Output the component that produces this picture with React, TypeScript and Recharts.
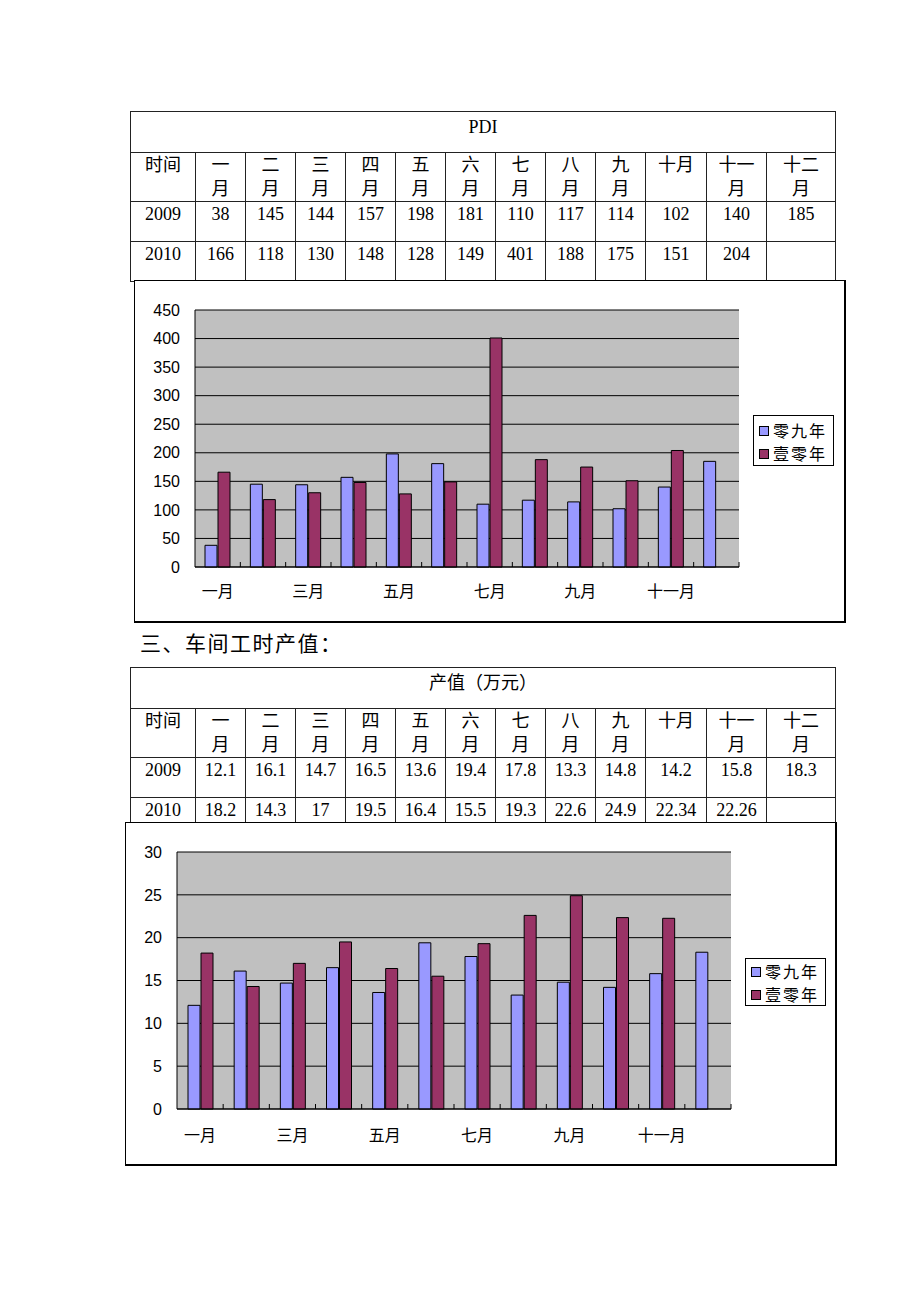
import React from 'react';
import { BarChart, Bar, XAxis, YAxis, CartesianGrid, Legend } from 'recharts';

const months = ['一月', '二月', '三月', '四月', '五月', '六月', '七月', '八月', '九月', '十月', '十一月', '十二月'];
const seriesNames = ['零九年', '壹零年'];
const yearLabels = ['2009', '2010'];

const pdi2009 = [38, 145, 144, 157, 198, 181, 110, 117, 114, 102, 140, 185];
const pdi2010: (number | null)[] = [166, 118, 130, 148, 128, 149, 401, 188, 175, 151, 204, null];
const pdiTicks = [0, 50, 100, 150, 200, 250, 300, 350, 400, 450];

const out2009 = [12.1, 16.1, 14.7, 16.5, 13.6, 19.4, 17.8, 13.3, 14.8, 14.2, 15.8, 18.3];
const out2010: (number | null)[] = [18.2, 14.3, 17, 19.5, 16.4, 15.5, 19.3, 22.6, 24.9, 22.34, 22.26, null];
const outTicks = [0, 5, 10, 15, 20, 25, 30];

const COLOR_09 = '#9999FF';
const COLOR_10 = '#993366';
const PLOT_BG = '#C0C0C0';

const SERIF = '"Liberation Serif", "Noto Sans CJK SC", serif';
const CJK = '"Noto Sans CJK SC", sans-serif';
const SANS = '"Liberation Sans", Arial, sans-serif';

const colWidths = [65, 50, 50, 50, 50, 50, 50, 50, 50, 50, 61, 60, 69];

function headerLabel(m: string) {
  if (m === '十月') return m;
  return (
    <>
      {m.slice(0, -1)}
      <br />
      {m.slice(-1)}
    </>
  );
}

const cellStyle: React.CSSProperties = {
  border: '1px solid #222',
  padding: '0',
  verticalAlign: 'top',
  textAlign: 'center',
  lineHeight: '24px',
  overflow: 'hidden',
};

function DataTable({ title, top, v2009, v2010 }: { title: string; top: number; v2009: number[]; v2010: (number | null)[] }) {
  return (
    <table
      style={{
        position: 'absolute',
        left: 130,
        top,
        width: 706,
        borderCollapse: 'collapse',
        tableLayout: 'fixed',
        fontFamily: SERIF,
        fontSize: 18,
        color: '#000',
      }}
    >
      <colgroup>
        {colWidths.map((w, i) => (
          <col key={i} style={{ width: w }} />
        ))}
      </colgroup>
      <tbody>
        <tr style={{ height: 41 }}>
          <td colSpan={13} style={{ ...cellStyle, paddingTop: 3 }}>{title}</td>
        </tr>
        <tr style={{ height: 49 }}>
          <td style={{ ...cellStyle, paddingTop: 0 }}>时间</td>
          {months.map((m) => (
            <td key={m} style={{ ...cellStyle, paddingTop: 0 }}>{headerLabel(m)}</td>
          ))}
        </tr>
        <tr style={{ height: 40 }}>
          <td style={cellStyle}>{yearLabels[0]}</td>
          {v2009.map((v, i) => (
            <td key={i} style={cellStyle}>{v}</td>
          ))}
        </tr>
        <tr style={{ height: 40 }}>
          <td style={cellStyle}>{yearLabels[1]}</td>
          {v2010.map((v, i) => (
            <td key={i} style={cellStyle}>{v === null ? '' : v}</td>
          ))}
        </tr>
      </tbody>
    </table>
  );
}

function makeXTick(band: number, labelDy: number) {
  return (props: any) => {
    const { x, y, payload, index } = props;
    const half = band / 2;
    return (
      <g>
        <line x1={x + half} x2={x + half} y1={y} y2={y - 5} stroke="#000" strokeWidth={1} />
        {index % 2 === 0 ? (
          <text
            x={x}
            y={y + labelDy}
            textAnchor="middle"
            dominantBaseline="central"
            fontSize={16}
            fontFamily={CJK}
            fill="#000"
          >
            {payload.value}
          </text>
        ) : null}
      </g>
    );
  };
}

function LegendBox({ width, height, padTop }: { width: number; height: number; padTop: number }) {
  const colors = [COLOR_09, COLOR_10];
  return (
    <div
      style={{
        width,
        height,
        boxSizing: 'border-box',
        border: '1px solid #000',
        background: '#fff',
        paddingTop: padTop,
      }}
    >
      {seriesNames.map((n, i) => (
        <div key={n} style={{ display: 'flex', alignItems: 'center', height: 23, paddingLeft: 5 }}>
          <span
            style={{
              display: 'inline-block',
              width: 8,
              height: 8,
              border: '1px solid #000',
              background: colors[i],
              marginRight: 4,
            }}
          />
          <span style={{ fontFamily: CJK, fontSize: 16, letterSpacing: 2, lineHeight: '23px', color: '#000' }}>{n}</span>
        </div>
      ))}
    </div>
  );
}

type ChartProps = {
  left: number;
  top: number;
  width: number;
  height: number;
  plotLeft: number;
  plotTop: number;
  plotWidth: number;
  plotHeight: number;
  v2009: number[];
  v2010: (number | null)[];
  ticks: number[];
  legendLeft: number;
  legendTop: number;
  legendW: number;
  legendH: number;
  legendPad: number;
  labelDy: number;
};

function ChartBox(p: ChartProps) {
  const data = months.map((m, i) => ({ month: m, a: p.v2009[i], b: p.v2010[i] }));
  const bottom = p.height - p.plotTop - p.plotHeight;
  const right = p.width - p.plotLeft - p.plotWidth;
  const band = p.plotWidth / months.length;
  const maxTick = p.ticks[p.ticks.length - 1];
  return (
    <div style={{ position: 'absolute', left: p.left, top: p.top, width: p.width, height: p.height, background: '#fff' }}>
      <BarChart
        width={p.width}
        height={p.height}
        data={data}
        margin={{ top: p.plotTop, right, bottom: 0, left: 0 }}
        barGap={1}
        barSize={12}
      >
        <CartesianGrid vertical={false} stroke="#000" strokeWidth={1} fill={PLOT_BG} fillOpacity={1} />
        <XAxis
          dataKey="month"
          height={bottom}
          interval={0}
          tickLine={false}
          tickSize={0}
          tickMargin={0}
          axisLine={{ stroke: '#000', strokeWidth: 1 }}
          tick={makeXTick(band, p.labelDy)}
        />
        <YAxis
          width={p.plotLeft}
          domain={[0, maxTick]}
          ticks={p.ticks}
          interval={0}
          tickLine={false}
          tickSize={0}
          tickMargin={15}
          axisLine={{ stroke: '#000', strokeWidth: 1 }}
          tick={{ fontSize: 16, fontFamily: SANS, fill: '#000' }}
        />
        <Legend
          layout="horizontal"
          align="center"
          verticalAlign="middle"
          wrapperStyle={{ position: 'absolute', left: p.legendLeft, top: p.legendTop, width: p.legendW, height: p.legendH }}
          content={() => <LegendBox width={p.legendW} height={p.legendH} padTop={p.legendPad} />}
        />
        <Bar dataKey="a" name={seriesNames[0]} fill={COLOR_09} stroke="#000" strokeWidth={1} isAnimationActive={false} />
        <Bar dataKey="b" name={seriesNames[1]} fill={COLOR_10} stroke="#000" strokeWidth={1} isAnimationActive={false} />
      </BarChart>
      <div
        style={{
          position: 'absolute',
          left: 0,
          top: 0,
          width: p.width,
          height: p.height,
          boxSizing: 'border-box',
          borderLeft: '1px solid #000',
          borderTop: '1px solid #000',
          borderRight: '2px solid #000',
          borderBottom: '2px solid #000',
          pointerEvents: 'none',
        }}
      />
    </div>
  );
}

export default function App() {
  return (
    <div style={{ position: 'absolute', left: 0, top: 0, width: 920, height: 1302, background: '#fff', overflow: 'hidden' }}>
      <DataTable title="PDI" top={111} v2009={pdi2009} v2010={pdi2010} />
      <ChartBox
        left={134}
        top={280}
        width={712}
        height={343}
        plotLeft={61}
        plotTop={30}
        plotWidth={544}
        plotHeight={257}
        v2009={pdi2009}
        v2010={pdi2010}
        ticks={pdiTicks}
        legendLeft={619}
        legendTop={135}
        legendW={81}
        legendH={51}
        legendPad={3}
        labelDy={23}
      />
      <div
        style={{
          position: 'absolute',
          left: 140,
          top: 628,
          fontFamily: CJK,
          fontSize: 21,
          letterSpacing: 1.5,
          lineHeight: '28px',
          color: '#000',
          whiteSpace: 'nowrap',
        }}
      >
        三、车间工时产值：
      </div>
      <DataTable title="产值（万元）" top={667} v2009={out2009} v2010={out2010} />
      <ChartBox
        left={125}
        top={822}
        width={712}
        height={344}
        plotLeft={52}
        plotTop={30}
        plotWidth={554}
        plotHeight={257}
        v2009={out2009}
        v2010={out2010}
        ticks={outTicks}
        legendLeft={620}
        legendTop={136}
        legendW={81}
        legendH={48}
        legendPad={1}
        labelDy={25}
      />
    </div>
  );
}
